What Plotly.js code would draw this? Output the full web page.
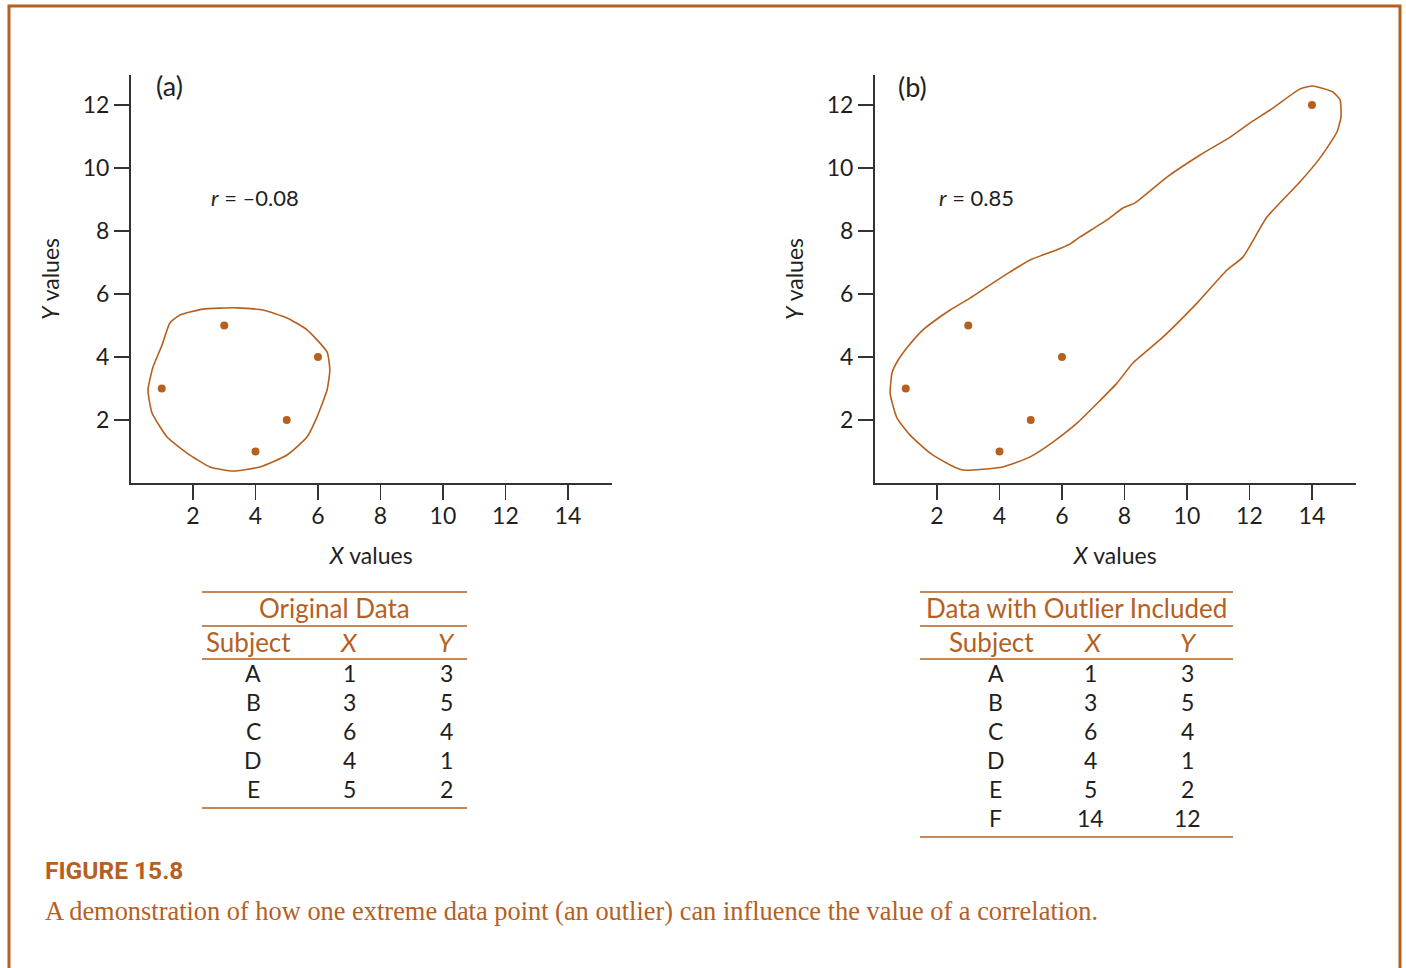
<!DOCTYPE html>
<html><head><meta charset="utf-8">
<script src="https://cdn.plot.ly/plotly-3.0.1.min.js"></script>
<style>html,body{margin:0;padding:0;background:#fff;} #chart{width:1406px;height:968px;}</style>
</head><body><div id="chart"></div>
<script>
// ---- data ----
const subjectsA = ['A','B','C','D','E'];
const xA = [1,3,6,4,5];
const yA = [3,5,4,1,2];
const subjectsB = ['A','B','C','D','E','F'];
const xB = [1,3,6,4,5,14];
const yB = [3,5,4,1,2,12];
const rA = '\u20130.08';
const rB = '0.85';
const xTicks = [2,4,6,8,10,12,14];
const yTicks = [2,4,6,8,10,12];
// hand-drawn enclosing outlines (data units)
const outlineAx = [1.58,2.32,3.41,4.24,5.01,5.65,6.29,6.38,6.29,5.97,5.65,5.01,4.14,3.28,2.54,1.81,1.17,0.69,0.56,0.72,1.01,1.26,1.58];
const outlineAy = [5.33,5.52,5.56,5.49,5.24,4.86,4.16,3.59,2.95,2.10,1.46,0.89,0.51,0.38,0.51,0.95,1.46,2.22,2.95,3.68,4.38,5.08,5.33];
const outlineBx = [0.50,0.56,0.72,1.04,1.55,1.87,2.42,3.06,3.70,4.34,4.98,5.84,6.26,6.58,7.44,7.95,8.34,9.36,10.42,11.38,12.02,12.75,13.62,14.03,14.67,14.90,14.93,14.80,14.26,13.62,12.56,11.79,11.28,10.32,9.23,8.27,7.76,6.48,5.71,4.98,4.11,2.83,2.42,1.78,1.14,0.72,0.56,0.50];
const outlineBy = [2.86,3.49,3.84,4.29,4.86,5.11,5.49,5.87,6.29,6.70,7.08,7.40,7.59,7.81,8.35,8.73,8.89,9.71,10.41,10.98,11.43,11.90,12.51,12.60,12.41,12.16,11.62,11.14,10.32,9.56,8.44,7.17,6.76,5.71,4.63,3.81,3.17,1.90,1.30,0.83,0.51,0.41,0.57,0.95,1.52,2.06,2.57,2.86];
const tableTitleA = 'Original Data';
const tableTitleB = 'Data with Outlier Included';
const tableHeaders = ['Subject','<i>X</i>','<i>Y</i>'];
const captionLabel = 'FIGURE 15.8';
const captionText = 'A demonstration of how one extreme data point (an outlier) can influence the value of a correlation.';

// ---- style ----
const W = 1406, H = 968;
const ORANGE = '#B5601F';
const DARK = '#231f20';
const FONT = 'Lato, "DejaVu Sans", sans-serif';
const px = v => v / W;
const py = v => 1 - v / H;

const outlineLine = {color:ORANGE, width:1.6, shape:'spline', smoothing:0.5};
const traces = [
  {x: outlineAx, y: outlineAy, xaxis:'x', yaxis:'y', mode:'lines', line:outlineLine, hoverinfo:'skip'},
  {x: xA, y: yA, text: subjectsA, xaxis:'x', yaxis:'y', mode:'markers', marker:{color:ORANGE, size:8}},
  {x: outlineBx, y: outlineBy, xaxis:'x2', yaxis:'y2', mode:'lines', line:outlineLine, hoverinfo:'skip'},
  {x: xB, y: yB, text: subjectsB, xaxis:'x2', yaxis:'y2', mode:'markers', marker:{color:ORANGE, size:8}}
];

function xax(dom, anchor) {
  return {
    domain: dom, anchor: anchor, range: [0, 15.41], showgrid:false, zeroline:false,
    showline:true, linecolor:'#333', linewidth:1.5,
    ticks:'outside', ticklen:15, tickwidth:1.5, tickcolor:'#333',
    tickmode:'array', tickvals: xTicks, ticktext: xTicks.map(String),
    ticklabelstandoff: -3,
    tickfont:{family:FONT, size:23, color:DARK},
    title:{text:'<i>X</i> values', standoff:20, font:{family:FONT, size:23, color:DARK}},
    fixedrange:true
  };
}
function yax(anchor) {
  return {
    domain: [py(483), py(75)], anchor: anchor, range: [0, 12.95], showgrid:false, zeroline:false,
    showline:true, linecolor:'#333', linewidth:1.5,
    ticks:'outside', ticklen:15, tickwidth:1.5, tickcolor:'#333',
    tickmode:'array', tickvals: yTicks, ticktext: yTicks.map(String),
    tickfont:{family:FONT, size:23, color:DARK},
    title:{text:'<i>Y</i> values', standoff:16, font:{family:FONT, size:23, color:DARK}},
    fixedrange:true
  };
}

const annotations = [];
const shapes = [];
const P = (x, y, text, font, extra) => Object.assign({xref:'paper', yref:'paper', x:px(x), y:py(y), xanchor:'center', yanchor:'middle', text:text, showarrow:false, font:font}, extra || {});

// panel labels and r values
annotations.push({xref:'x', yref:'y', x:1.26, y:12.63, text:'(a)', showarrow:false, font:{family:FONT, size:27, color:DARK}});
annotations.push({xref:'x2', yref:'y2', x:1.22, y:12.57, text:'(b)', showarrow:false, font:{family:FONT, size:27, color:DARK}});
annotations.push({xref:'x', yref:'y', x:3.98, y:9.05, text:'<i>r</i> = ' + rA, showarrow:false, font:{family:FONT, size:22, color:DARK}});
annotations.push({xref:'x2', yref:'y2', x:3.26, y:9.05, text:'<i>r</i> = ' + rB, showarrow:false, font:{family:FONT, size:22, color:DARK}});

// tables
function table(title, subjects, xs, ys, x0, x1, cols) {
  const line = (yy) => shapes.push({type:'line', xref:'paper', yref:'paper', x0:px(x0), x1:px(x1), y0:py(yy), y1:py(yy), line:{color:ORANGE, width:1.6}});
  line(592); line(626); line(659);
  annotations.push(P((x0 + x1) / 2, 608, title, {family:FONT, size:26, color:ORANGE}));
  tableHeaders.forEach((h, i) => annotations.push(P(cols.h[i], 642, h, {family:FONT, size:26, color:ORANGE})));
  subjects.forEach((s, i) => {
    const yy = 673 + 29 * i;
    [s, String(xs[i]), String(ys[i])].forEach((t, j) => annotations.push(P(cols.b[j], yy, t, {family:FONT, size:23, color:DARK})));
  });
  line(673 + 29 * (subjects.length - 1) + 19);
}
table(tableTitleA, subjectsA, xA, yA, 202, 467, {h:[248,349,446], b:[253,349,446]});
table(tableTitleB, subjectsB, xB, yB, 920, 1233, {h:[991,1093,1188], b:[996,1090,1187]});

// caption
annotations.push(P(43, 870, '<b>' + captionLabel + '</b>', {family:'"Liberation Sans Narrow", "Roboto", sans-serif', size:24.5, color:ORANGE}, {xanchor:'left'}));
annotations.push(P(43, 911, captionText, {family:'"Liberation Serif", serif', size:26.4, color:ORANGE}, {xanchor:'left'}));

// frame
shapes.push({type:'rect', xref:'paper', yref:'paper', x0:px(9), x1:px(1400), y0:py(6), y1:py(990), line:{color:ORANGE, width:3}, fillcolor:'rgba(0,0,0,0)'});

const layout = {
  width: W, height: H, margin:{l:0, r:0, t:0, b:0},
  paper_bgcolor:'#fff', plot_bgcolor:'rgba(0,0,0,0)', showlegend:false,
  font:{family:FONT, color:DARK},
  xaxis: xax([px(130.5), px(612)], 'y'),
  yaxis: yax('x'),
  xaxis2: xax([px(874.5), px(1356)], 'y2'),
  yaxis2: yax('x2'),
  annotations: annotations, shapes: shapes
};
Plotly.newPlot('chart', traces, layout, {displayModeBar:false, staticPlot:true});
</script></body></html>
